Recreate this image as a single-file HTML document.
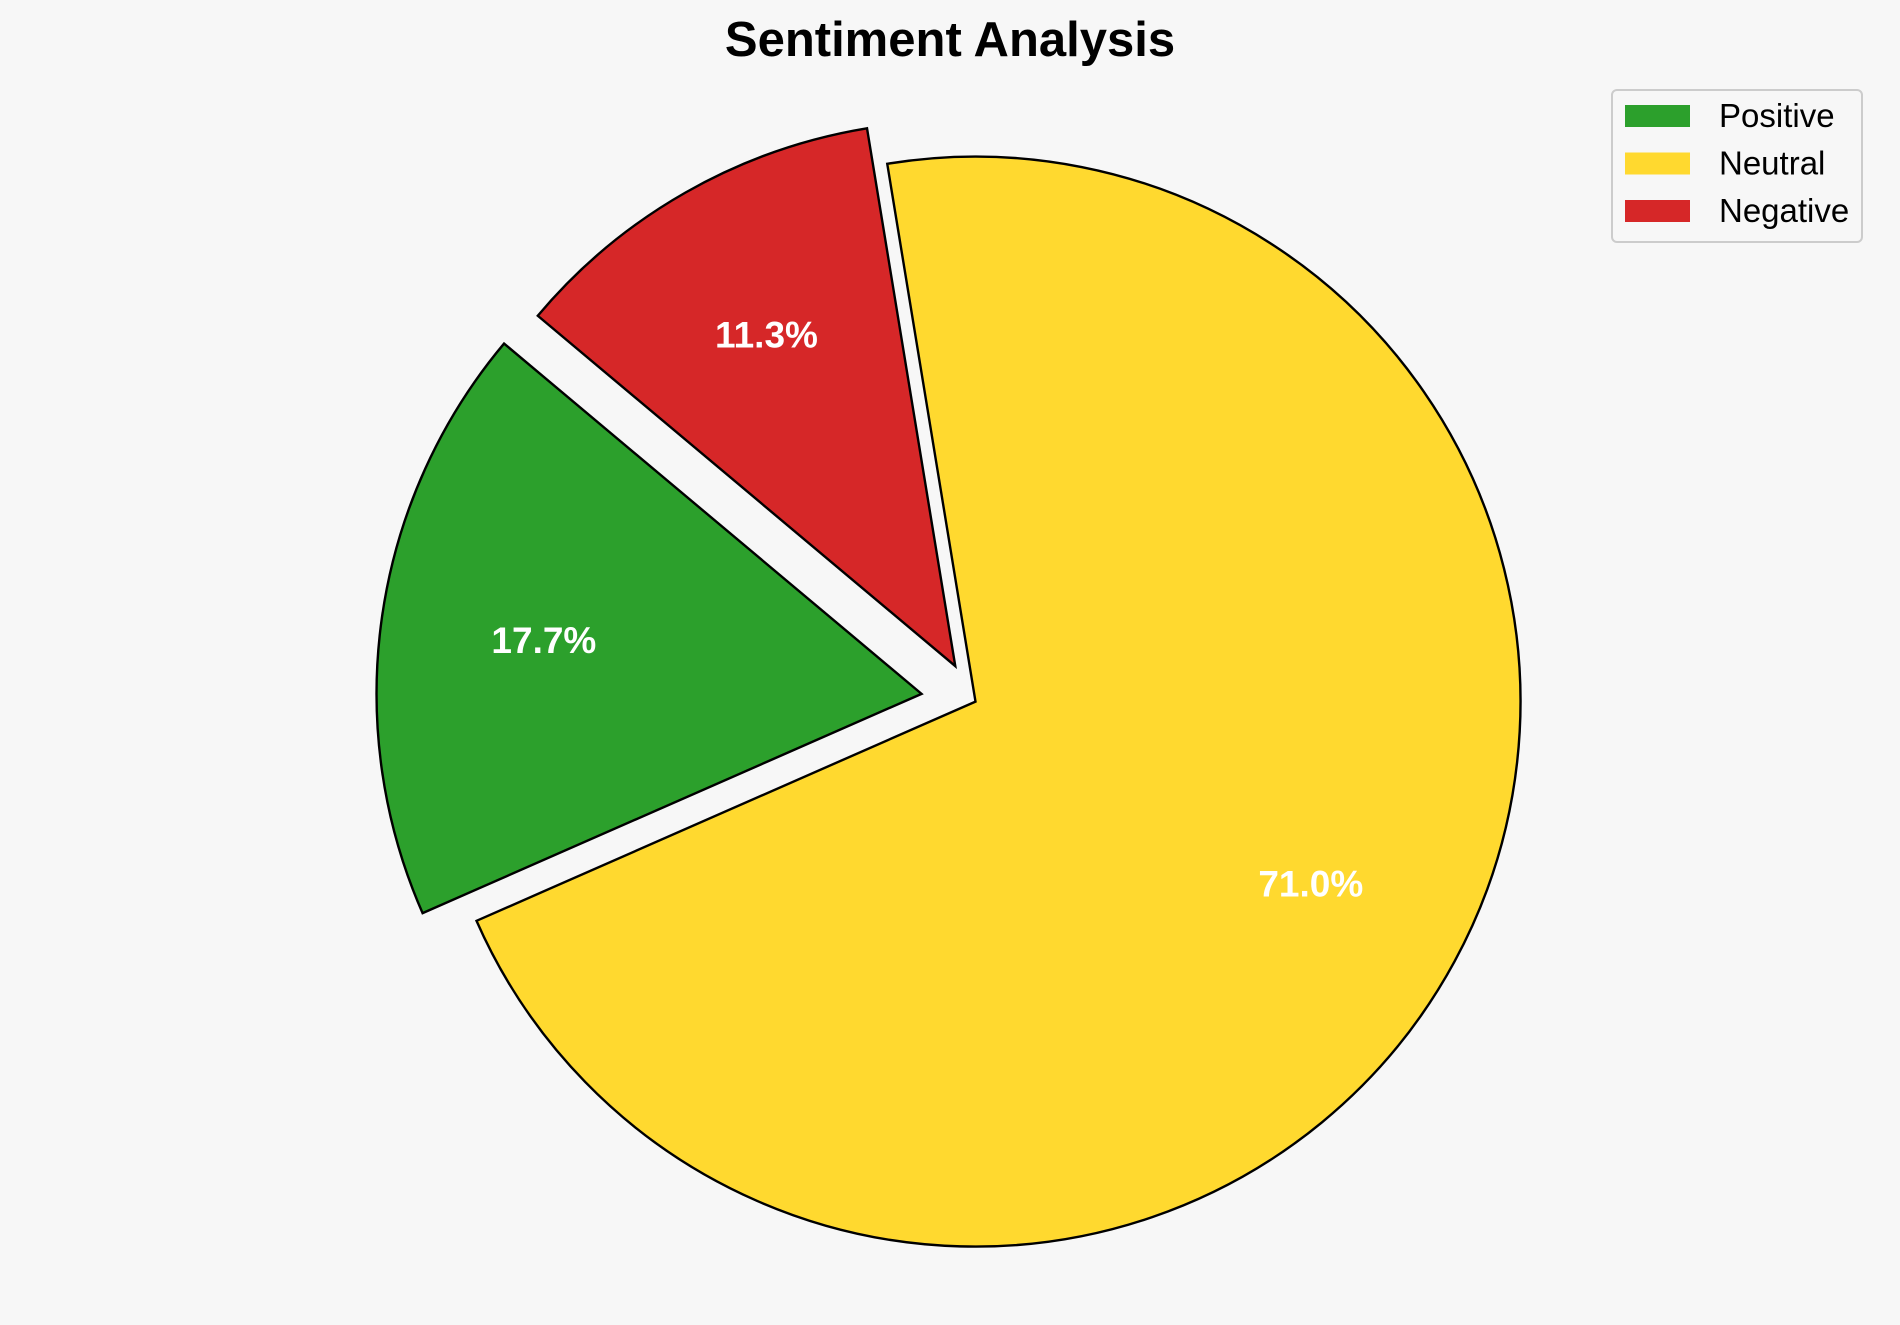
<!DOCTYPE html>
<html><head><meta charset="utf-8"><style>
html,body{margin:0;padding:0;background:#f7f7f7;}
svg{display:block;font-family:"Liberation Sans",Arial,sans-serif;}
</style></head><body>
<svg id="chart" width="1900" height="1325" viewBox="0 0 1900 1325">
<rect width="1900" height="1325" fill="#f7f7f7"/>
<text x="950" y="56" text-anchor="middle" font-size="49" font-weight="bold" fill="#000">Sentiment Analysis</text>
<g id="slices"></g>
<g id="labels"></g>
<g>
<rect x="1612" y="90" width="250" height="152" rx="5" fill="#f7f7f7" stroke="#ccc" stroke-width="2"/>
<g id="legend-items"></g>
</g>
</svg>
<script>
const categories = ["Positive","Neutral","Negative"];
const values = [17.7, 71.0, 11.3];
const explode = [0.1, 0, 0.075];
const colors = ["#2ca02c","#ffd92f","#d62728"];
const cx=975.5, cy=701.6, R=545, startAngle=140, pctDist=0.7;
const NS="http://www.w3.org/2000/svg";
const total=values.reduce((a,b)=>a+b,0);
const gS=document.getElementById('slices'), gL=document.getElementById('labels'), gLeg=document.getElementById('legend-items');
let a=startAngle;
function pt(x,y,ang,r){const t=ang*Math.PI/180;return [x+r*Math.cos(t), y-r*Math.sin(t)];}
values.forEach((v,i)=>{
  const span=v/total*360, a0=a, a1=a+span, mid=(a0+a1)/2;
  const [ox,oy]=pt(cx,cy,mid,explode[i]*R);
  const [x0,y0]=pt(ox,oy,a0,R), [x1,y1]=pt(ox,oy,a1,R);
  const p=document.createElementNS(NS,'path');
  p.setAttribute('d',`M${ox},${oy} L${x0},${y0} A${R},${R} 0 ${span>180?1:0} 0 ${x1},${y1} Z`);
  p.setAttribute('fill',colors[i]);p.setAttribute('stroke','#000');p.setAttribute('stroke-width','2.4');p.setAttribute('stroke-linejoin','miter');
  
  
  gS.appendChild(p);
  const [lx,ly]=pt(ox,oy,mid,R*pctDist);
  const t=document.createElementNS(NS,'text');
  t.setAttribute('x',lx);t.setAttribute('y',ly+13);t.setAttribute('text-anchor','middle');
  t.setAttribute('font-size','37');t.setAttribute('font-weight','bold');t.setAttribute('fill','#fff');
  t.textContent=v.toFixed(1)+'%';
  
  
  gL.appendChild(t);
  const ry=116+i*47.5;
  const r=document.createElementNS(NS,'rect');
  r.setAttribute('x',1625);r.setAttribute('y',ry-11);r.setAttribute('width',65);r.setAttribute('height',22);r.setAttribute('fill',colors[i]);
  
  
  gLeg.appendChild(r);
  const lt=document.createElementNS(NS,'text');
  lt.setAttribute('x',1719);lt.setAttribute('y',ry+11);lt.setAttribute('font-size','33');lt.setAttribute('fill','#000');
  lt.textContent=categories[i];
  
  
  gLeg.appendChild(lt);
  a=a1;
});
</script>
</body></html>
